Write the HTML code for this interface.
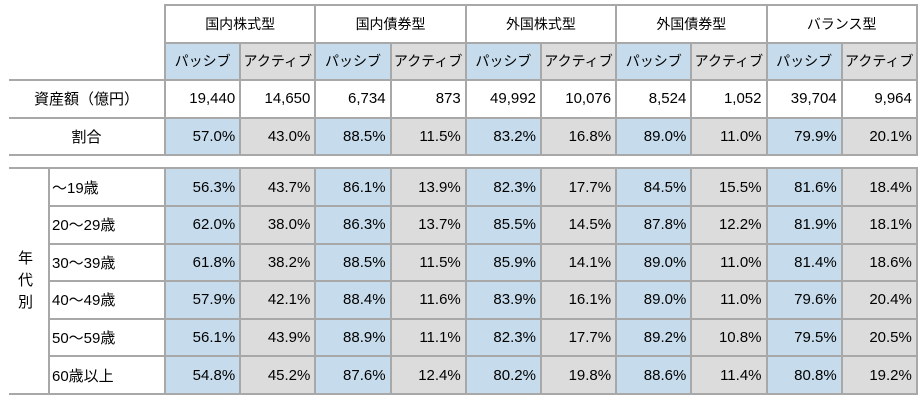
<!DOCTYPE html>
<html><head><meta charset="utf-8"><style>
body{margin:0;background:#fff;width:923px;height:402px;overflow:hidden;font-family:"Liberation Sans","Noto Sans CJK JP",sans-serif;font-size:15px;color:#000}
table{position:absolute;left:9px;top:4px;border-collapse:collapse;table-layout:fixed}
td{border:2px solid #a8a8a8;padding:0 4px;white-space:nowrap;overflow:hidden;box-sizing:border-box;height:37.6px}
td.n{border:none}
.c{text-align:center}.r{text-align:right}
.b{background:#c6dcec}.g{background:#dcdcdc}
tr.gap td{height:13px;border-left:none;border-right:none}
.hd td.b,.hd td.g{text-align:center;padding:0;font-size:14px}
tr.h1 td{font-size:14px}
</style></head><body>
<table>
<colgroup><col style="width:40px"><col style="width:116px"><col span="10" style="width:75.2px"></colgroup>
<tr class="h1"><td class="n"></td><td class="n"></td><td colspan="2" class="c">国内株式型</td><td colspan="2" class="c">国内債券型</td><td colspan="2" class="c">外国株式型</td><td colspan="2" class="c">外国債券型</td><td colspan="2" class="c">バランス型</td></tr>
<tr class="hd"><td class="n" style="border-bottom:2px solid #a8a8a8"></td><td class="n" style="border-bottom:2px solid #a8a8a8"></td><td class="b">パッシブ</td><td class="g">アクティブ</td><td class="b">パッシブ</td><td class="g">アクティブ</td><td class="b">パッシブ</td><td class="g">アクティブ</td><td class="b">パッシブ</td><td class="g">アクティブ</td><td class="b">パッシブ</td><td class="g">アクティブ</td></tr>
<tr><td colspan="2" class="c" style="border-left:none">資産額（億円）</td><td class="r">19,440</td><td class="r">14,650</td><td class="r">6,734</td><td class="r">873</td><td class="r">49,992</td><td class="r">10,076</td><td class="r">8,524</td><td class="r">1,052</td><td class="r">39,704</td><td class="r">9,964</td></tr>
<tr><td colspan="2" class="c" style="border-left:none">割合</td><td class="r b">57.0%</td><td class="r g">43.0%</td><td class="r b">88.5%</td><td class="r g">11.5%</td><td class="r b">83.2%</td><td class="r g">16.8%</td><td class="r b">89.0%</td><td class="r g">11.0%</td><td class="r b">79.9%</td><td class="r g">20.1%</td></tr>
<tr class="gap"><td colspan="12"></td></tr>
<tr><td rowspan="6" class="c" style="border-left:none;line-height:22px;padding:0 6px 0 0">年<br>代<br>別</td><td style="padding-left:2px">～19歳</td><td class="r b">56.3%</td><td class="r g">43.7%</td><td class="r b">86.1%</td><td class="r g">13.9%</td><td class="r b">82.3%</td><td class="r g">17.7%</td><td class="r b">84.5%</td><td class="r g">15.5%</td><td class="r b">81.6%</td><td class="r g">18.4%</td></tr>
<tr><td style="padding-left:2px">20～29歳</td><td class="r b">62.0%</td><td class="r g">38.0%</td><td class="r b">86.3%</td><td class="r g">13.7%</td><td class="r b">85.5%</td><td class="r g">14.5%</td><td class="r b">87.8%</td><td class="r g">12.2%</td><td class="r b">81.9%</td><td class="r g">18.1%</td></tr>
<tr><td style="padding-left:2px">30～39歳</td><td class="r b">61.8%</td><td class="r g">38.2%</td><td class="r b">88.5%</td><td class="r g">11.5%</td><td class="r b">85.9%</td><td class="r g">14.1%</td><td class="r b">89.0%</td><td class="r g">11.0%</td><td class="r b">81.4%</td><td class="r g">18.6%</td></tr>
<tr><td style="padding-left:2px">40～49歳</td><td class="r b">57.9%</td><td class="r g">42.1%</td><td class="r b">88.4%</td><td class="r g">11.6%</td><td class="r b">83.9%</td><td class="r g">16.1%</td><td class="r b">89.0%</td><td class="r g">11.0%</td><td class="r b">79.6%</td><td class="r g">20.4%</td></tr>
<tr><td style="padding-left:2px">50～59歳</td><td class="r b">56.1%</td><td class="r g">43.9%</td><td class="r b">88.9%</td><td class="r g">11.1%</td><td class="r b">82.3%</td><td class="r g">17.7%</td><td class="r b">89.2%</td><td class="r g">10.8%</td><td class="r b">79.5%</td><td class="r g">20.5%</td></tr>
<tr><td style="padding-left:2px">60歳以上</td><td class="r b">54.8%</td><td class="r g">45.2%</td><td class="r b">87.6%</td><td class="r g">12.4%</td><td class="r b">80.2%</td><td class="r g">19.8%</td><td class="r b">88.6%</td><td class="r g">11.4%</td><td class="r b">80.8%</td><td class="r g">19.2%</td></tr>
</table>
</body></html>
